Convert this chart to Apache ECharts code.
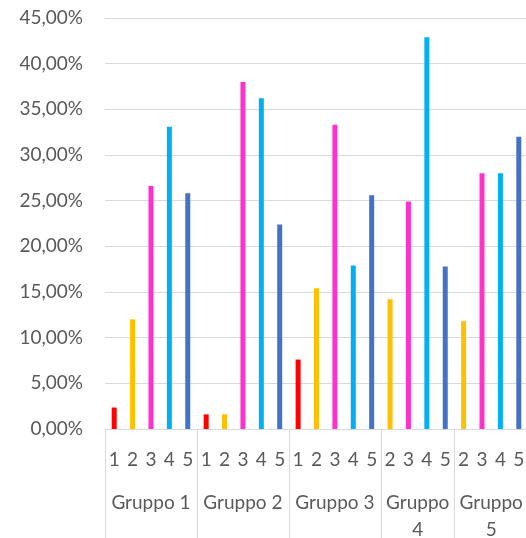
<!DOCTYPE html>
<html>
<head>
<meta charset="utf-8">
<script src="https://cdn.jsdelivr.net/npm/echarts@6/dist/echarts.min.js"></script>
<style>
  html, body { margin: 0; padding: 0; background: #ffffff; }
  #chart { width: 526px; height: 538px; }
</style>
</head>
<body>
<div id="chart"></div>
<script>
// Group names (outer level of the category axis)
const groups = ['Gruppo 1', 'Gruppo 2', 'Gruppo 3', 'Gruppo 4', 'Gruppo 5'];
// Inner category labels per group
const subLabels = [
  ['1', '2', '3', '4', '5'],
  ['1', '2', '3', '4', '5'],
  ['1', '2', '3', '4', '5'],
  ['2', '3', '4', '5'],
  ['2', '3', '4', '5']
];
// Percent values per group, in the same order as subLabels
const values = [
  [2.35, 12.0, 26.6, 33.1, 25.8],
  [1.6, 1.6, 38.0, 36.2, 22.4],
  [7.6, 15.4, 33.3, 17.9, 25.6],
  [14.2, 24.9, 42.9, 17.8],
  [11.8, 28.0, 28.0, 32.0]
];
// Y axis ticks
const yMin = 0, yMax = 45, yStep = 5;

// Bar colour by inner label
const subColors = { '1': '#FF0000', '2': '#FFC000', '3': '#FF33CC', '4': '#00B0F0', '5': '#4472C4' };

const textColor = '#595959';
const lineColor = '#D9D9D9';
const fontFamily = 'Lato, "Open Sans", sans-serif';
const fontSize = 19;

// Flatten into a single category axis
const cats = [];
const barData = [];
groups.forEach((g, gi) => {
  subLabels[gi].forEach((s, si) => {
    cats.push(s);
    barData.push({ value: values[gi][si], itemStyle: { color: subColors[s] } });
  });
});

// Outer axis: half-category points so group centres and boundaries land on points
const n = cats.length;
const halfPoints = [];
for (let i = 0; i <= 2 * n; i++) halfPoints.push(String(i));
const boundaryIdx = new Set([0]);
const centerLabel = {};
let start = 0;
groups.forEach((g, gi) => {
  const len = subLabels[gi].length;
  centerLabel[start + len] = len < 5 ? g.replace(' ', '\n') : g; // index in half units
  start += 2 * len;
  boundaryIdx.add(start);
});

const chart = echarts.init(document.getElementById('chart'), null, { renderer: 'canvas' });
chart.setOption({
  animation: false,
  backgroundColor: '#ffffff',
  grid: { left: 105, right: -2, top: 18, bottom: 109, containLabel: false, outerBoundsMode: 'none' },
  xAxis: [
    {
      type: 'category',
      data: cats,
      position: 'bottom',
      axisLine: { show: true, lineStyle: { color: lineColor, width: 1 } },
      axisTick: { show: false },
      axisLabel: { interval: 0, color: textColor, fontFamily, fontSize, margin: 21 }
    },
    {
      type: 'category',
      data: halfPoints,
      position: 'bottom',
      boundaryGap: false,
      axisLine: { show: false },
      axisTick: {
        show: true,
        length: 112,
        interval: (idx) => boundaryIdx.has(idx),
        lineStyle: { color: lineColor, width: 1 }
      },
      axisLabel: {
        interval: (idx) => centerLabel[idx] !== undefined,
        formatter: (v, idx) => centerLabel[idx] || '',
        color: textColor, fontFamily, fontSize, lineHeight: 27, margin: 60
      },
      splitLine: { show: false }
    }
  ],
  yAxis: {
    type: 'value',
    min: yMin, max: yMax, interval: yStep,
    axisLine: { show: false },
    axisTick: { show: false },
    axisLabel: {
      color: textColor, fontFamily, fontSize, margin: 22,
      formatter: (v) => v.toFixed(2).replace('.', ',') + '%'
    },
    splitLine: { lineStyle: { color: lineColor, width: 1 } }
  },
  series: [{
    type: 'bar',
    xAxisIndex: 0,
    data: barData,
    barWidth: 5
  }]
});
</script>
</body>
</html>
